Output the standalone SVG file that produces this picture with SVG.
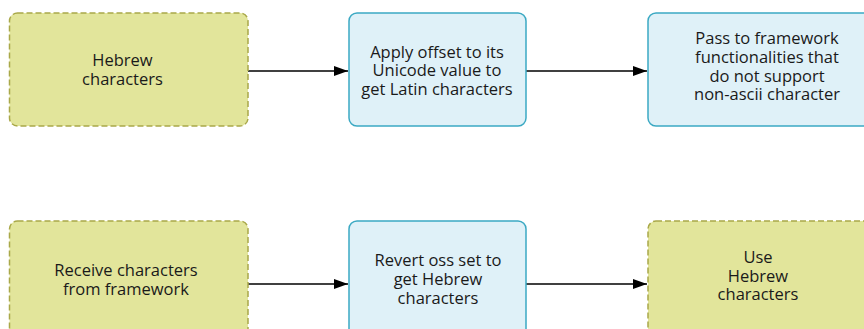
<svg xmlns="http://www.w3.org/2000/svg" width="864" height="329" viewBox="0 0 864 329">
<style>
.y{fill:#e2e59b;stroke:#a9a849;stroke-width:1.5;stroke-dasharray:6,3}
.b{fill:#dff1f8;stroke:#3ba9c3;stroke-width:1.5}
text{font-family:"Open Sans","Noto Sans",sans-serif;font-size:16.5px;fill:#1a1a1a;text-anchor:middle}
.c{stroke:#000;stroke-width:1.5;fill:none;marker-end:url(#ah)}
</style>
<defs>
<marker id="ah" markerWidth="14" markerHeight="10" refX="14" refY="5" orient="auto" markerUnits="userSpaceOnUse">
<path d="M0,0 L14,5 L0,10 Z" fill="#000"/>
</marker>
</defs>
<rect width="864" height="329" fill="#fff"/>
<g id="connectors">
<line class="c" x1="248" y1="71" x2="348" y2="71"/>
<line class="c" x1="526" y1="71" x2="647" y2="71"/>
<line class="c" x1="248" y1="284" x2="348" y2="284"/>
<line class="c" x1="526" y1="284" x2="647" y2="284"/>
</g>
<g id="n1">
<rect class="y" x="9.5" y="13" width="238.5" height="113" rx="8"/>
<text x="122.5" y="65.5">Hebrew</text>
<text x="122.5" y="84.5">characters</text>
</g>
<g id="n2">
<rect class="b" x="349" y="13" width="177" height="113" rx="8"/>
<text x="437" y="57.5">Apply offset to its</text>
<text x="437" y="76">Unicode value to</text>
<text x="437" y="94.5">get Latin characters</text>
</g>
<g id="n3">
<rect class="b" x="648" y="13" width="238" height="113" rx="8"/>
<text x="767" y="44">Pass to framework</text>
<text x="767" y="63">functionalities that</text>
<text x="767" y="81.5">do not support</text>
<text x="767" y="100">non-ascii character</text>
</g>
<g id="n4">
<rect class="y" x="9.5" y="221" width="238.5" height="126" rx="8"/>
<text x="126" y="275.5">Receive characters</text>
<text x="126" y="294.5">from framework</text>
</g>
<g id="n5">
<rect class="b" x="349" y="221" width="177" height="126" rx="8"/>
<text x="438" y="266">Revert oss set to</text>
<text x="438" y="285">get Hebrew</text>
<text x="438" y="303.5">characters</text>
</g>
<g id="n6">
<rect class="y" x="648" y="221" width="238" height="126" rx="8"/>
<text x="758" y="262.5">Use</text>
<text x="758" y="281.5">Hebrew</text>
<text x="758" y="300">characters</text>
</g>
</svg>
